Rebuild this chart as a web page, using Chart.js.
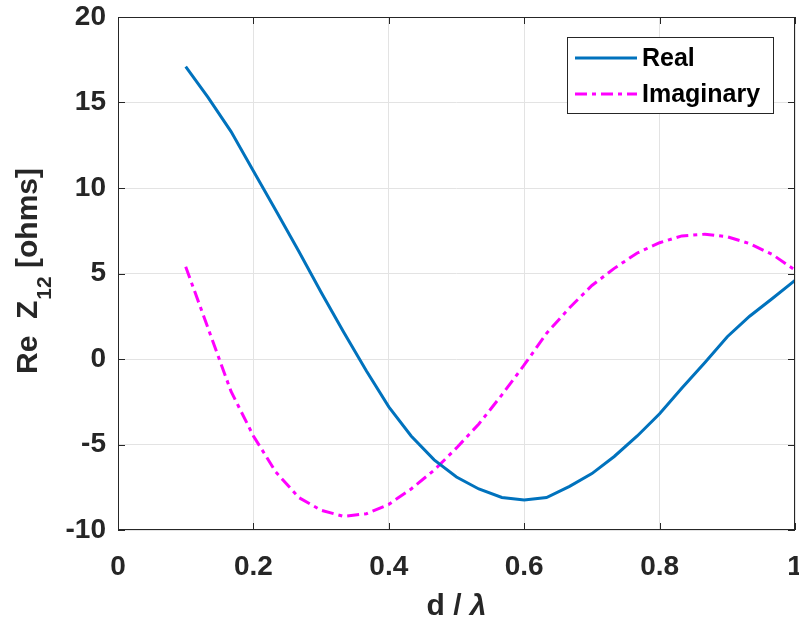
<!DOCTYPE html>
<html>
<head>
<meta charset="utf-8">
<script src="https://cdn.jsdelivr.net/npm/chart.js@4"></script>
<style>
  html, body { margin: 0; padding: 0; background: #fff; }
  #wrap { width: 799px; height: 624px; }
</style>
</head>
<body>
<div id="wrap"><canvas id="myChart" width="799" height="624"></canvas></div>
<script>
// spacing d / lambda
var dLambda = [0.1, 0.133, 0.167, 0.2, 0.233, 0.267, 0.3, 0.333, 0.367, 0.4,
               0.433, 0.467, 0.5, 0.533, 0.567, 0.6, 0.633, 0.667, 0.7, 0.733,
               0.767, 0.8, 0.833, 0.867, 0.9, 0.933, 0.967, 1.0];
// Z12 real part [ohms]
var realZ = [17.1, 15.3, 13.3, 11.0, 8.7, 6.3, 3.9, 1.6, -0.7, -2.8,
             -4.5, -5.9, -6.9, -7.6, -8.1, -8.25, -8.1, -7.45, -6.7, -5.7,
             -4.5, -3.2, -1.7, -0.2, 1.3, 2.5, 3.55, 4.6];
// Z12 imaginary part [ohms]
var imagZ = [5.4, 1.8, -1.9, -4.5, -6.6, -8.1, -8.85, -9.2, -9.05, -8.5,
             -7.6, -6.5, -5.2, -3.8, -2.1, -0.35, 1.5, 3.0, 4.3, 5.3,
             6.2, 6.8, 7.2, 7.3, 7.15, 6.75, 6.1, 5.2];
var seriesNames = ['Real', 'Imaginary'];
var xTicks = [0, 0.2, 0.4, 0.6, 0.8, 1];
var yTicks = [-10, -5, 0, 5, 10, 15, 20];

var FONT = '"Liberation Sans", Arial, Helvetica, sans-serif';
var AXC = '#262626';

function pts(ys) {
    return dLambda.map(function (x, i) { return { x: x, y: ys[i] }; });
}

// box, inner ticks, axis titles and legend, drawn the MATLAB way
var matlabLook = {
    id: 'matlabLook',
    afterDraw: function (chart) {
        var ctx = chart.ctx, a = chart.chartArea;
        var xs = chart.scales.x, ys = chart.scales.y;
        ctx.save();
        ctx.strokeStyle = AXC;
        ctx.lineWidth = 1;
        ctx.strokeRect(a.left + 0.5, a.top + 0.5, a.right - a.left - 1, a.bottom - a.top - 1);
        ctx.beginPath();
        xTicks.forEach(function (t) {
            var px = Math.round(xs.getPixelForValue(t)) + 0.5;
            ctx.moveTo(px, a.bottom); ctx.lineTo(px, a.bottom - 7);
            ctx.moveTo(px, a.top); ctx.lineTo(px, a.top + 7);
        });
        yTicks.forEach(function (t) {
            var py = Math.round(ys.getPixelForValue(t)) + 0.5;
            ctx.moveTo(a.left, py); ctx.lineTo(a.left + 7, py);
            ctx.moveTo(a.right, py); ctx.lineTo(a.right - 7, py);
        });
        ctx.stroke();

        // y title: Re  Z_12 [ohms]
        ctx.fillStyle = AXC;
        ctx.translate(37, (a.top + a.bottom) / 2 - 2);
        ctx.rotate(-Math.PI / 2);
        var mainF = 'bold 30px ' + FONT, subF = 'bold 21px ' + FONT;
        ctx.font = mainF; var w1 = ctx.measureText('Re  Z').width;
        var w3 = ctx.measureText(' [ohms]').width;
        ctx.font = subF; var w2 = ctx.measureText('12').width;
        var x0 = -(w1 + w2 + w3) / 2;
        ctx.textBaseline = 'alphabetic';
        ctx.textAlign = 'left';
        ctx.font = mainF; ctx.fillText('Re  Z', x0, 0);
        ctx.font = subF; ctx.fillText('12', x0 + w1 + 1, 14);
        ctx.font = mainF; ctx.fillText(' [ohms]', x0 + w1 + w2 + 1, 0);
        ctx.restore();

        // x title: d / lambda
        ctx.save();
        ctx.fillStyle = AXC;
        ctx.textBaseline = 'alphabetic';
        ctx.textAlign = 'left';
        var f1 = 'bold 30px ' + FONT, f2 = 'italic bold 30px ' + FONT;
        ctx.font = f1; var wa = ctx.measureText('d / ').width;
        ctx.font = f2; var wb = ctx.measureText('\u03bb').width;
        var cx = (a.left + a.right) / 2 - (wa + wb) / 2;
        ctx.font = f1; ctx.fillText('d / ', cx, 615);
        ctx.font = f2; ctx.fillText('\u03bb', cx + wa, 615);
        ctx.restore();

        // legend
        ctx.save();
        var lx = 567.5, ly = 37.5, lw = 206, lh = 76;
        ctx.fillStyle = '#ffffff';
        ctx.fillRect(lx, ly, lw, lh);
        ctx.strokeStyle = AXC;
        ctx.lineWidth = 1;
        ctx.strokeRect(lx, ly, lw, lh);
        var rows = [58, 94];
        chart.data.datasets.forEach(function (ds, i) {
            ctx.beginPath();
            ctx.strokeStyle = ds.borderColor;
            ctx.lineWidth = ds.borderWidth;
            ctx.setLineDash(ds.borderDash || []);
            ctx.moveTo(575, rows[i]); ctx.lineTo(637, rows[i]);
            ctx.stroke();
            ctx.setLineDash([]);
            ctx.fillStyle = '#000';
            ctx.font = 'bold 25px ' + FONT;
            ctx.textBaseline = 'middle';
            ctx.textAlign = 'left';
            ctx.fillText(ds.label, 642, rows[i] + 1);
        });
        ctx.restore();
    }
};

var ctx = document.getElementById('myChart').getContext('2d');
var chart = new Chart(ctx, {
    type: 'line',
    data: {
        datasets: [{
            label: seriesNames[0],
            data: pts(realZ),
            borderColor: '#0072BD',
            borderWidth: 3,
            pointRadius: 0,
            tension: 0,
            fill: false
        }, {
            label: seriesNames[1],
            data: pts(imagZ),
            borderColor: '#FF00FF',
            borderWidth: 3,
            borderDash: [12, 5, 4, 5],
            pointRadius: 0,
            tension: 0,
            fill: false
        }]
    },
    options: {
        responsive: false,
        animation: false,
        layout: { padding: { top: 17, right: 4, left: 0, bottom: 0 } },
        plugins: {
            legend: { display: false },
            tooltip: { enabled: false }
        },
        scales: {
            x: {
                type: 'linear',
                min: 0, max: 1,
                afterBuildTicks: function (s) { s.ticks = xTicks.map(function (v) { return { value: v }; }); },
                afterFit: function (s) { s.height = 94; s.paddingLeft = 0; s.paddingRight = 0; },
                grid: { color: '#e3e3e3', drawTicks: false },
                border: { display: false },
                ticks: {
                    padding: 20,
                    color: AXC,
                    font: { family: FONT, size: 28, weight: 'bold' },
                    maxRotation: 0,
                    callback: function (v) { return String(Math.round(v * 10) / 10); }
                }
            },
            y: {
                min: -10, max: 20,
                afterBuildTicks: function (s) { s.ticks = yTicks.map(function (v) { return { value: v }; }); },
                afterFit: function (s) { s.width = 118; s.paddingTop = 0; s.paddingBottom = 0; },
                grid: { color: '#e3e3e3', drawTicks: false },
                border: { display: false },
                ticks: {
                    padding: 12,
                    color: AXC,
                    font: { family: FONT, size: 28, weight: 'bold' }
                }
            }
        }
    },
    plugins: [matlabLook]
});
</script>
</body>
</html>
